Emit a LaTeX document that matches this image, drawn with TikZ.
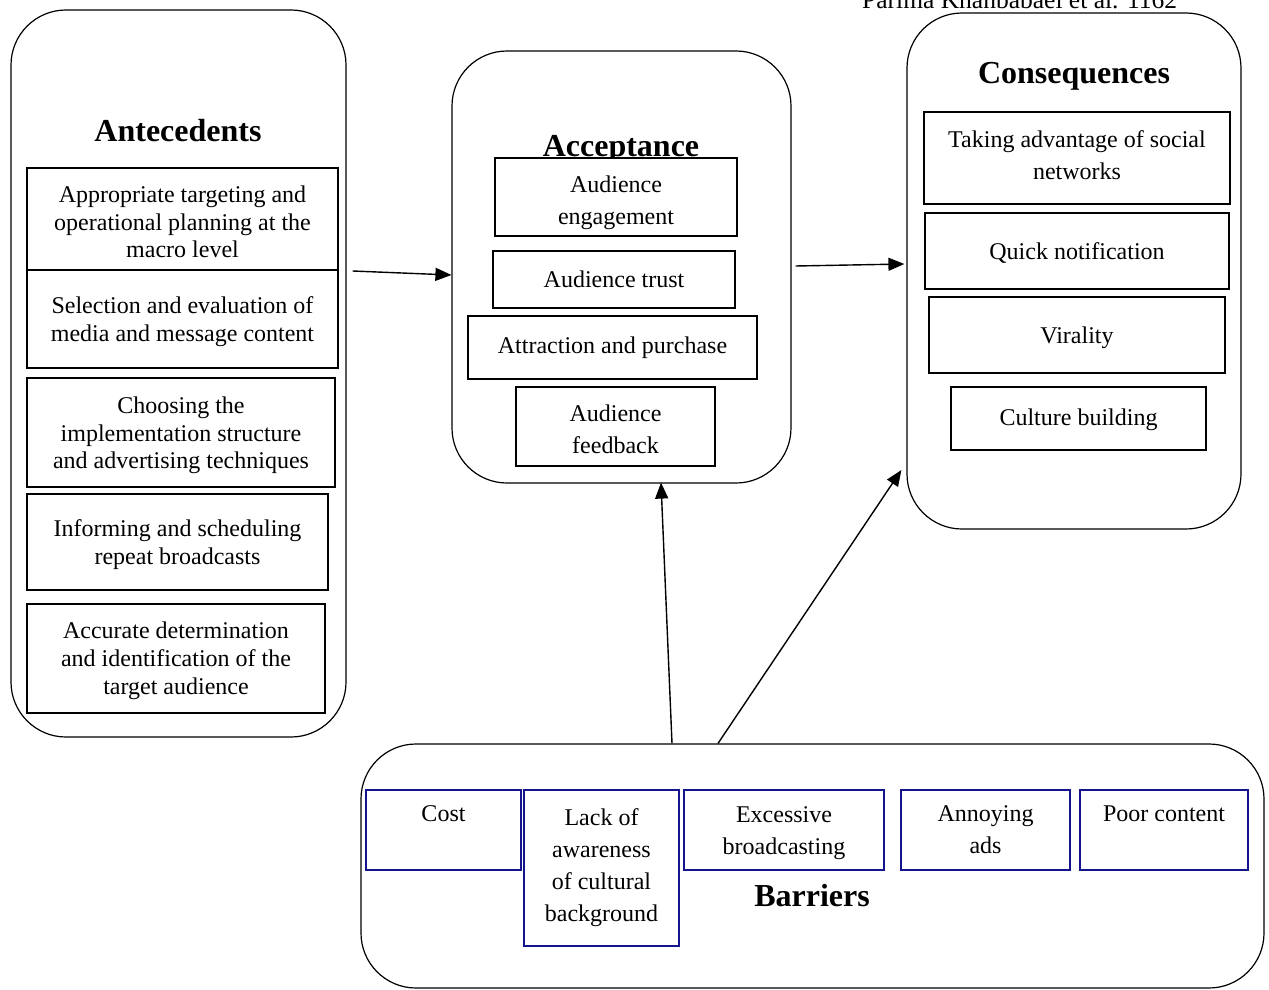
\documentclass[tikz,border=0pt]{standalone}
\usepackage{fontspec}
\setmainfont{Liberation Serif}
\usetikzlibrary{arrows.meta}
\definecolor{navyb}{RGB}{20,20,140}
\newcommand\tdown[1]{\rule{0pt}{#1}}
\newcommand\tup[1]{\rule[-#1]{0pt}{0pt}}
\tikzset{
  outerbox/.style={draw=black, line width=1.2pt, rounded corners=55pt, inner sep=0pt, fill=white},
  inbox/.style={draw=black, line width=2.6pt, fill=white, align=center, inner sep=0pt,
     font=\fontsize{24}{27.6}\selectfont},
  inboxw/.style={inbox, font=\fontsize{24}{32}\selectfont},
  barbox/.style={draw=navyb, line width=1.4pt, fill=white, align=center, inner sep=0pt,
     font=\fontsize{24}{32}\selectfont},
  heading/.style={font=\fontsize{32}{36}\selectfont\bfseries, inner sep=0pt},
  arr/.style={line width=1.4pt, -{Triangle[length=16pt,width=13pt]}}
}
\begin{document}
\begin{tikzpicture}[x=1pt,y=-1pt]
\useasboundingbox (0,0) rectangle (1269,990);
\clip (0,0) rectangle (1269,990);

% header
\node[anchor=base west, inner sep=0pt, font=\fontsize{25.5}{28}\selectfont] (hdr) at (862,9) {Parima Khanbabaei et al. 1162};

% Antecedents
\node[outerbox, minimum width=335pt, minimum height=727pt] (ante) at (178.5,373.5) {};
\node[heading] (anteT) at (178,131) {Antecedents};
\node[inbox, minimum width=311pt, minimum height=102pt] (an1) at (182.5,219) {\tdown{22.5pt}Appropriate targeting and\\operational planning at the\\macro level};
\node[inbox, minimum width=311pt, minimum height=98pt] (an2) at (182.5,319) {\tdown{22.5pt}Selection and evaluation of\\media and message content};
\node[inbox, minimum width=308pt, minimum height=109pt] (an3) at (181,432.5) {\tdown{22.5pt}Choosing the\\implementation structure\\and advertising techniques};
\node[inbox, minimum width=301pt, minimum height=96pt] (an4) at (177.5,542) {\tdown{22.5pt}Informing and scheduling\\repeat broadcasts};
\node[inbox, minimum width=298pt, minimum height=109pt] (an5) at (176,658.5) {\tdown{21pt}Accurate determination\\and identification of the\\target audience};

% Acceptance
\node[outerbox, minimum width=339pt, minimum height=432pt] (acc) at (621.5,267) {};
\node[heading, anchor=base] (accT) at (621,156) {Acceptance};
\node[inboxw, minimum width=242pt, minimum height=78pt] (ac1) at (616,197) {\tdown{28.5pt}Audience\\engagement};
\node[inboxw, minimum width=242pt, minimum height=57pt] (ac2) at (614,279.5) {Audience trust};
\node[inboxw, minimum width=289pt, minimum height=63pt] (ac3) at (612.5,347.5) {Attraction and purchase\tup{5pt}};
\node[inboxw, minimum width=199pt, minimum height=79pt] (ac4) at (615.5,426.5) {\tdown{22.5pt}Audience\\feedback};

% Consequences
\node[outerbox, minimum width=334pt, minimum height=516pt] (cons) at (1074,271) {};
\node[heading, anchor=base] (consT) at (1074,84) {Consequences};
\node[inboxw, minimum width=306pt, minimum height=92pt] (co1) at (1077,158) {Taking advantage of social\\networks\tup{6pt}};
\node[inboxw, minimum width=304pt, minimum height=76pt] (co2) at (1077,251) {\tdown{20pt}Quick notification};
\node[inboxw, minimum width=296pt, minimum height=76pt] (co3) at (1077,335) {\tdown{22pt}Virality};
\node[inboxw, minimum width=255pt, minimum height=63pt] (co4) at (1078.5,418.5) {\tdown{20pt}Culture building};

% Barriers
\node[outerbox, minimum width=903pt, minimum height=244pt] (bar) at (812.5,866) {};
\node[heading] (barT) at (812,896) {Barriers};
\node[barbox, minimum width=155pt, minimum height=80pt] (b1) at (443.5,830) {Cost\\\mbox{}};
\node[barbox, minimum width=155pt, minimum height=156pt] (b2) at (601.5,868) {Lack of\\awareness\\of cultural\\background\tup{6pt}};
\node[barbox, minimum width=200pt, minimum height=80pt] (b3) at (784,830) {\tdown{22pt}Excessive\\broadcasting};
\node[barbox, minimum width=169pt, minimum height=80pt] (b4) at (985.5,830) {Annoying\\ads};
\node[barbox, minimum width=168pt, minimum height=80pt] (b5) at (1164,830) {Poor content\\\mbox{}};

% connectors
\draw[arr] ([xshift=6pt,yshift=102.5pt]ante.east) -- ([yshift=-8pt]acc.west);
\draw[arr] ([xshift=4pt,yshift=1pt]acc.east) -- ([xshift=-2pt,yshift=7pt]cons.west);
\draw[arr] ([xshift=-140.5pt]bar.north) -- ([xshift=39.5pt,yshift=1pt]acc.south);
\draw[arr] ([xshift=-94.5pt]bar.north) -- ([xshift=-5pt,yshift=-199pt]cons.west);
\end{tikzpicture}
\end{document}
